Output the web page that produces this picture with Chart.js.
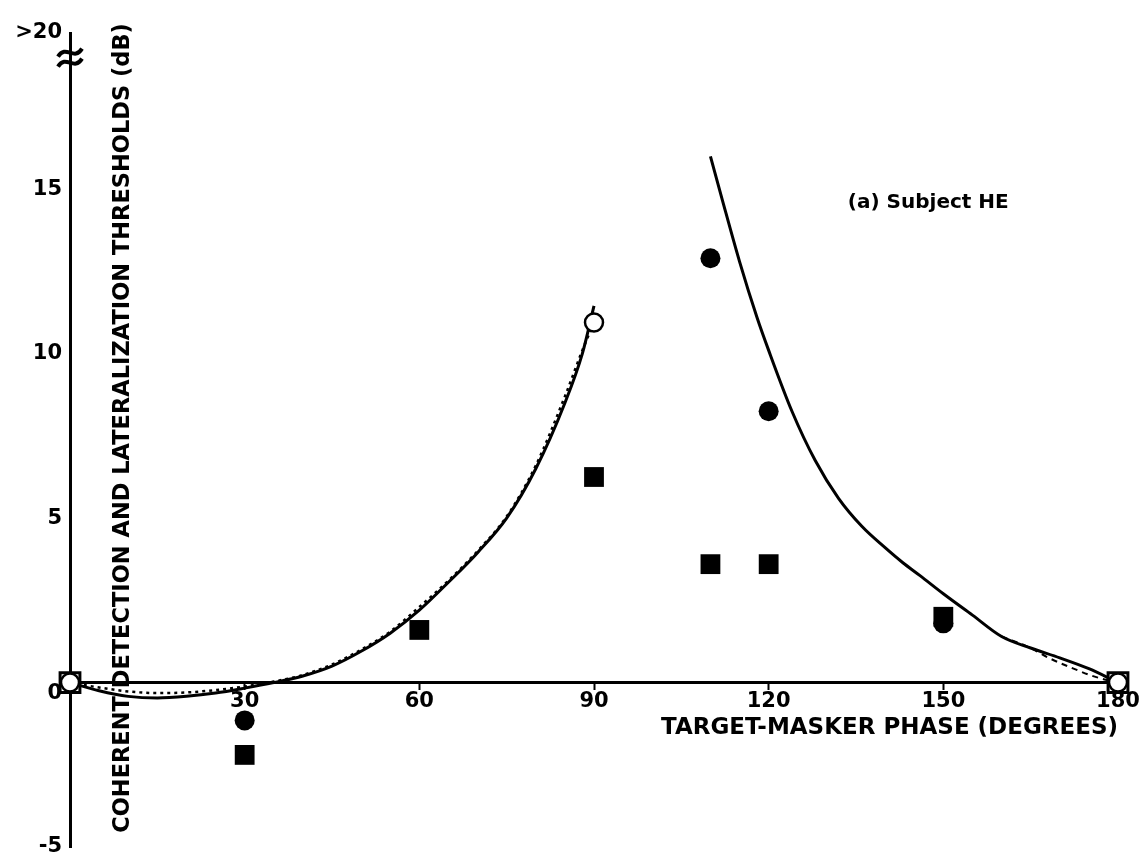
<!DOCTYPE html>
<html>
<head>
<meta charset="utf-8">
<script src="https://cdn.jsdelivr.net/npm/chart.js@4/dist/chart.umd.min.js"></script>
<style>
  html, body { margin: 0; padding: 0; background: #fff; }
  #wrap { width: 1146px; height: 858px; position: relative; }
</style>
</head>
<body>
<div id="wrap"><canvas id="canvas"></canvas></div>
<script>
// x = target-masker phase (degrees), y = threshold (dB)
const xTicks = [0, 30, 60, 90, 120, 150, 180];
const yTicks = [-5, 0, 5, 10, 15, 19.75];
const yTickLabels = ['-5', '0', '5', '10', '15', '>20'];

const xTitle = 'TARGET-MASKER PHASE (DEGREES)';
const yTitle = 'COHERENT DETECTION AND LATERALIZATION THRESHOLDS (dB)';
const panelLabel = '(a) Subject HE';

// solid fitted curve, 0-90 deg
const solidLeftX = [0, 5, 10, 15, 20, 25, 30, 35, 40, 45, 50, 55, 60, 65, 70, 75, 80, 85, 88, 90];
const solidLeftY = [0, -0.25, -0.42, -0.47, -0.42, -0.32, -0.17, 0, 0.2, 0.5, 0.95, 1.5, 2.2, 3.05, 3.95, 5.0, 6.5, 8.5, 10.0, 11.45];
// dotted curve, 0-90 deg
const dottedLeftX = [0, 5, 10, 15, 20, 25, 30, 35, 40, 45, 50, 55, 60, 65, 70, 75, 80, 85, 88, 90];
const dottedLeftY = [0, -0.15, -0.27, -0.32, -0.3, -0.23, -0.12, 0.03, 0.23, 0.55, 1.0, 1.55, 2.3, 3.1, 4.0, 5.05, 6.6, 8.7, 10.1, 10.95];
// solid fitted curve, 110-180 deg
const solidRightX = [110, 112, 115, 118, 120, 124, 128, 132, 136, 140, 143, 146, 150, 155, 160, 165, 170, 175, 180];
const solidRightY = [16.0, 14.7, 12.8, 11.1, 10.1, 8.25, 6.75, 5.6, 4.75, 4.1, 3.65, 3.25, 2.7, 2.05, 1.4, 1.05, 0.75, 0.42, 0];
// dashed tail, 160-180 deg
const dashedRightX = [160, 165, 168, 172, 176, 180];
const dashedRightY = [1.4, 1.05, 0.76, 0.45, 0.18, 0];

// measured thresholds
const circleX = [30, 110, 120, 150];
const circleY = [-1.15, 12.9, 8.25, 1.8];
const squareX = [30, 60, 90, 110, 120, 150];
const squareY = [-2.2, 1.6, 6.25, 3.6, 3.6, 2.0];
const openCircleX = [0, 90, 180];
const openCircleY = [0, 10.95, 0];
const openSquareX = [0, 180];
const openSquareY = [0, 0];

const pts = (xs, ys) => xs.map((v, i) => ({ x: v, y: ys[i] }));
const tickFont = { family: '"DejaVu Sans"', weight: 'bold', size: 21, lineHeight: 1.0 };

const decor = {
  id: 'decor',
  afterDraw(chart) {
    const { ctx, scales: { x, y } } = chart;
    ctx.save();
    ctx.fillStyle = '#000';
    ctx.strokeStyle = '#000';
    // axis break mark
    const bx = y.right, by = y.getPixelForValue(19);
    ctx.lineWidth = 4;
    for (const d of [-5, 5]) {
      ctx.beginPath();
      ctx.moveTo(bx - 12, by + d + 4);
      ctx.bezierCurveTo(bx - 4, by + d - 9, bx + 4, by + d + 9, bx + 12, by + d - 4);
      ctx.stroke();
    }
    // panel label
    ctx.font = 'bold 20px "DejaVu Sans"';
    ctx.textAlign = 'left';
    ctx.textBaseline = 'middle';
    ctx.fillText(panelLabel, x.getPixelForValue(133.6), y.getPixelForValue(14.6));
    // y title, sits right of the axis
    ctx.font = 'bold 22.5px "DejaVu Sans"';
    ctx.textAlign = 'center';
    ctx.translate(123, 428);
    ctx.rotate(-Math.PI / 2);
    ctx.fillText(yTitle, 0, 0);
    ctx.restore();
  }
};

const lineDs = (xs, ys, dash, w) => ({
  data: pts(xs, ys), showLine: true, borderColor: '#000', borderWidth: w,
  borderDash: dash, pointRadius: 0, cubicInterpolationMode: 'monotone', clip: false
});

const data = {
  datasets: [
    { data: pts(openCircleX, openCircleY), pointStyle: 'circle', pointRadius: 9, borderWidth: 2.5,
      borderColor: '#000', backgroundColor: '#fff', clip: false },
    { data: pts(openSquareX, openSquareY), pointStyle: 'rect', pointRadius: 14, borderWidth: 3,
      borderColor: '#000', backgroundColor: '#fff', clip: false },
    { data: pts(circleX, circleY), pointStyle: 'circle', pointRadius: 10, borderWidth: 0,
      backgroundColor: '#000', clip: false },
    { data: pts(squareX, squareY), pointStyle: 'rect', pointRadius: 14, borderWidth: 0,
      backgroundColor: '#000', clip: false },
    lineDs(solidLeftX, solidLeftY, [], 3),
    lineDs(dottedLeftX, dottedLeftY, [3, 4], 2.5),
    lineDs(solidRightX, solidRightY, [], 3),
    lineDs(dashedRightX, dashedRightY, [6, 5], 2)
  ]
};

const config = {
  type: 'scatter',
  data: data,
  options: {
    responsive: true,
    maintainAspectRatio: false,
    animation: false,
    layout: { autoPadding: false, padding: { top: 33, right: 28, bottom: 11, left: 0 } },
    plugins: { legend: { display: false }, tooltip: { enabled: false } },
    scales: {
      x: {
        type: 'linear', position: { y: 0 }, min: 0, max: 180,
        afterBuildTicks: s => { s.ticks = xTicks.map(v => ({ value: v })); },
        afterFit: s => { s.paddingLeft = 0; s.paddingRight = 0; s.paddingTop = 0; s.paddingBottom = 0; },
        ticks: { callback: v => (v === 0 ? '' : String(v)), font: tickFont, color: '#000',
                 padding: 2, maxRotation: 0, autoSkip: false },
        grid: { display: true, drawOnChartArea: false, drawTicks: true, tickLength: 6,
                tickColor: '#000', tickWidth: 2 },
        border: { display: true, color: '#000', width: 3 },
        title: { display: true, text: xTitle, align: 'end', color: '#000',
                 font: { family: '"DejaVu Sans"', weight: 'bold', size: 23, lineHeight: 1.0 },
                 padding: { top: 3, bottom: 0 } }
      },
      y: {
        type: 'linear', position: 'left', min: -5, max: 19.75,
        afterBuildTicks: s => { s.ticks = yTicks.map(v => ({ value: v })); },
        afterFit: s => { s.width = 70; s.paddingTop = 0; s.paddingBottom = 0; },
        ticks: { callback: (v, i) => (yTickLabels[i] === '0' ? ['', '0'] : yTickLabels[i]),
                 font: tickFont, color: '#000', padding: 0 },
        grid: { display: false, drawTicks: true, tickLength: 8 },
        border: { display: true, color: '#000', width: 3 }
      }
    }
  },
  plugins: [decor]
};

const canvas = document.getElementById('canvas');
const chart = new Chart(canvas, config);
</script>
</body>
</html>
